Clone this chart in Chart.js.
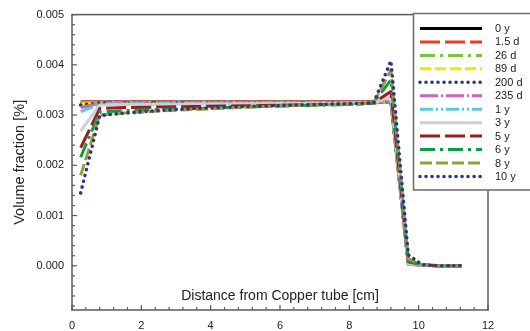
<!DOCTYPE html>
<html><head><meta charset="utf-8">
<script src="https://cdn.jsdelivr.net/npm/chart.js@4/dist/chart.umd.min.js"></script>
<style>html,body{margin:0;padding:0;background:#fff}canvas{display:block}</style>
</head><body>
<canvas id="c" width="530" height="331"></canvas>
<script>
// Distance from copper tube [cm]
const distance = [0.25, 0.8, 1.5, 2.5, 3.5, 4.5, 5.5, 6.5, 7.5, 8.2, 8.7, 9.2, 9.7, 10.1, 10.6, 11.25];
const seriesNames = ['0 y','1.5 d','26 d','89 d','200 d','235 d','1 y','3 y','5 y','6 y','8 y','10 y'];
const s0y   = [0.00326,0.00326,0.00326,0.00326,0.00326,0.00326,0.00326,0.00326,0.00326,0.00326,0.00326,0.00326,0.00004,0.00001,0,0];
const s15d  = [0.00326,0.00326,0.00326,0.00326,0.00326,0.00326,0.00326,0.00326,0.00326,0.00326,0.00326,0.00327,0.00004,0.00001,0,0];
const s26d  = [0.00325,0.00325,0.00325,0.00325,0.00325,0.00325,0.00325,0.00325,0.00325,0.00325,0.00325,0.00327,0.00004,0.00001,0,0];
const s89d  = [0.00322,0.00324,0.00324,0.00324,0.00324,0.00324,0.00324,0.00324,0.00324,0.00324,0.00324,0.00327,0.00004,0.00001,0,0];
const s200d = [0.00320,0.00324,0.00324,0.00324,0.00324,0.00324,0.00324,0.00324,0.00324,0.00324,0.00324,0.00328,0.00004,0.00001,0,0];
const s235d = [0.00315,0.00323,0.00324,0.00324,0.00324,0.00324,0.00324,0.00324,0.00324,0.00324,0.00324,0.00328,0.00003,0.00001,0,0];
const s1y   = [0.00307,0.00322,0.00323,0.00323,0.00323,0.00323,0.00324,0.00324,0.00324,0.00324,0.00324,0.00330,0.00003,0.00001,0,0];
const s3y   = [0.00268,0.00320,0.00321,0.00321,0.00322,0.00322,0.00323,0.00323,0.00323,0.00324,0.00324,0.00337,0.00005,0.00001,0,0];
const s5y   = [0.00235,0.00313,0.00315,0.00316,0.00317,0.00318,0.00319,0.00320,0.00321,0.00322,0.00324,0.00347,0.00008,0.00002,0,0];
const s6y   = [0.00216,0.00306,0.00309,0.00311,0.00313,0.00315,0.00317,0.00319,0.00320,0.00322,0.00324,0.00370,0.00010,0.00002,0,0];
const s8y   = [0.00180,0.00300,0.00304,0.00308,0.00311,0.00314,0.00317,0.00319,0.00321,0.00322,0.00324,0.00390,0.00014,0.00002,0,0];
const s10y  = [0.00145,0.00299,0.00304,0.00309,0.00313,0.00316,0.00318,0.00320,0.00322,0.00323,0.00324,0.00408,0.00022,0.00002,0,0];
const seriesValues = [s0y,s15d,s26d,s89d,s200d,s235d,s1y,s3y,s5y,s6y,s8y,s10y];
// Tick values
const yTickLabels = [0, 0.001, 0.002, 0.003, 0.004, 0.005];
const xTickLabels = [0, 2, 4, 6, 8, 10, 12];

const styles = [
  {c:'#000000', d:[], cap:'butt'},
  {c:'#ef3b24', d:[20,5], cap:'butt'},
  {c:'#7dc242', d:[15,5,3,5], cap:'butt'},
  {c:'#f2e600', d:[11,4], cap:'butt'},
  {c:'#2e3192', d:[0.01,6], cap:'round'},
  {c:'#c964b9', d:[18,3,2,3], cap:'butt'},
  {c:'#5cc8dc', d:[13,3,2,3,2,3], cap:'butt'},
  {c:'#cfcfcf', d:[], cap:'butt'},
  {c:'#9e1b1e', d:[20,5], cap:'butt'},
  {c:'#0f9a48', d:[15,5,3,5], cap:'butt'},
  {c:'#9b9b3a', d:[12,4], cap:'butt'},
  {c:'#2b3590', d:[0.01,6], cap:'round'}
];

const datasets = seriesNames.map((name, i) => ({
  label: name,
  data: distance.map((x, k) => ({x: x, y: seriesValues[i][k]})),
  borderColor: styles[i].c,
  backgroundColor: styles[i].c,
  borderDash: styles[i].d,
  borderCapStyle: styles[i].cap,
  borderJoinStyle: 'round',
  borderWidth: styles[i].cap === 'round' ? 3.6 : 3,
  pointRadius: 0,
  tension: 0,
  fill: false,
  order: seriesNames.length - i
}));

const FONT = "'Liberation Sans', Arial, Helvetica, sans-serif";

const framePlugin = {
  id: 'frame',
  afterDraw(chart) {
    const {ctx, chartArea: a, scales: {x, y}} = chart;
    ctx.save();
    ctx.setLineDash([]);
    ctx.strokeStyle = '#5a5a5a';
    ctx.lineWidth = 1.5;
    ctx.strokeRect(a.left, a.top, a.right - a.left, a.bottom - a.top);
    ctx.lineWidth = 1.2;
    // inward ticks on x
    for (let v = 0; v <= 12.0001; v += 0.4) {
      const major = Math.abs(v / 2 - Math.round(v / 2)) < 1e-6;
      const px = x.getPixelForValue(v);
      ctx.beginPath();
      ctx.moveTo(px, a.bottom);
      ctx.lineTo(px, a.bottom - (major ? 5 : 3));
      ctx.stroke();
    }
    // inward ticks on y
    for (let k = -4; k <= 25; k++) {
      const v = k * 0.0002;
      if (v < y.min || v > y.max) continue;
      const major = k % 5 === 0;
      const py = y.getPixelForValue(v);
      ctx.beginPath();
      ctx.moveTo(a.left, py);
      ctx.lineTo(a.left + (major ? 5 : 3), py);
      ctx.stroke();
    }
    // legend box
    const lx = 413.5, ly = 13.5, lw = 130, lh = 176.5;
    ctx.fillStyle = '#ffffff';
    ctx.fillRect(lx, ly, lw, lh);
    ctx.strokeStyle = '#6a6a6a';
    ctx.lineWidth = 1.5;
    ctx.strokeRect(lx, ly, lw, lh);
    chart.data.datasets.forEach((ds, i) => {
      const yy = 28.5 + i * 13.45;
      ctx.save();
      ctx.strokeStyle = ds.borderColor;
      ctx.lineWidth = ds.borderWidth;
      ctx.lineCap = ds.borderCapStyle;
      ctx.setLineDash(ds.borderDash);
      ctx.beginPath();
      ctx.moveTo(420, yy);
      ctx.lineTo(482, yy);
      ctx.stroke();
      ctx.restore();
      ctx.fillStyle = '#222';
      ctx.font = '11px ' + FONT;
      ctx.textBaseline = 'middle';
      ctx.textAlign = 'left';
      ctx.fillText(ds.label, 495, yy + 0.5);
    });
    ctx.restore();
  }
};

new Chart(document.getElementById('c'), {
  type: 'line',
  data: { datasets },
  plugins: [framePlugin],
  options: {
    responsive: false,
    animation: false,
    devicePixelRatio: 1,
    layout: { padding: { top: 11, right: 42, left: 0, bottom: 0 } },
    plugins: { legend: { display: false }, tooltip: { enabled: false } },
    scales: {
      x: {
        type: 'linear', min: 0, max: 12,
        grid: { display: false, drawTicks: false },
        border: { display: false },
        ticks: { stepSize: 2, padding: 9, color: '#222', font: { family: FONT, size: 11 },
                 callback: v => String(v) },
        afterBuildTicks: s => { s.ticks = xTickLabels.map(v => ({value: v})); },
        title: { display: true, text: 'Distance from Copper tube [cm]', color: '#222',
                 font: { family: FONT, size: 14 }, padding: { top: 0, bottom: 26 } },
        afterFit: s => { s.height = 21; }
      },
      y: {
        type: 'linear', min: -0.00088, max: 0.005,
        grid: { display: false, drawTicks: false },
        border: { display: false },
        ticks: { padding: 8, color: '#222', font: { family: FONT, size: 11 },
                 callback: v => Number(v).toFixed(3) },
        afterBuildTicks: s => { s.ticks = yTickLabels.map(v => ({value: v})); },
        title: { display: true, text: 'Volume fraction [%]', color: '#222',
                 font: { family: FONT, size: 14.5 }, padding: { top: 11, bottom: 0 } },
        afterFit: s => { s.width = 72; }
      }
    }
  }
});
</script>
</body></html>
